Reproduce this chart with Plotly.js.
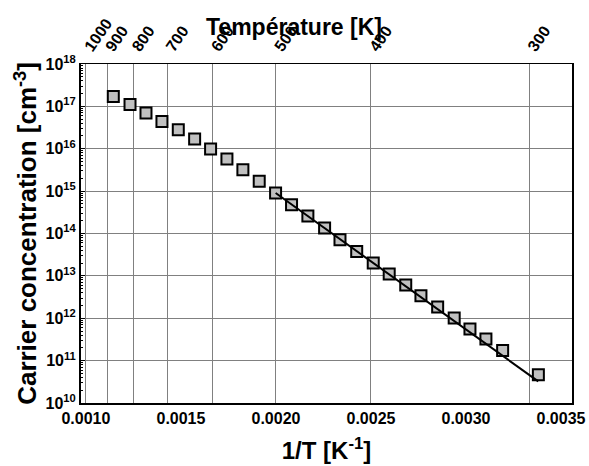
<!DOCTYPE html>
<html>
<head>
<meta charset="utf-8">
<script src="https://cdn.plot.ly/plotly-3.0.1.min.js"></script>
<style>html,body{margin:0;padding:0;background:#fff;}#chart{width:589px;height:466px;}</style>
</head>
<body>
<div id="chart"></div>
<script>
// 1/T values [K^-1] of the measured points
const invT = [0.001144, 0.001232, 0.001316, 0.001400, 0.001486, 0.001572, 0.001656,
  0.001742, 0.001826, 0.001912, 0.001998, 0.002082, 0.002168, 0.002256, 0.002337,
  0.002425, 0.002512, 0.002596, 0.002683, 0.002763, 0.002851, 0.002938, 0.003021,
  0.003105, 0.003193, 0.003381];
// carrier concentration [cm^-3]
const conc = [1.72e17, 1.10e17, 6.98e16, 4.42e16, 2.82e16, 1.70e16, 9.86e15,
  5.73e15, 3.21e15, 1.70e15, 9.04e14, 4.79e14, 2.59e14, 1.35e14, 7.14e13,
  3.78e13, 2.01e13, 1.11e13, 6.10e12, 3.40e12, 1.84e12, 1.01e12, 5.57e11,
  3.24e11, 1.74e11, 4.66e10];
// fitted straight line (end points)
const fitX = [0.0019984, 0.0033805];
const fitY = [9.04e14, 3.24e10];
// top axis temperatures [K]
const temps = [1000, 900, 800, 700, 600, 500, 400, 300];
const tempLabels = ['1000', '900', '800', '700', '600', '500', '400', '300'];
const bottomTicks = [0.0010, 0.0015, 0.0020, 0.0025, 0.0030, 0.0035];
const bottomLabels = ['0.0010', '0.0015', '0.0020', '0.0025', '0.0030', '0.0035'];
const yExponents = [10, 11, 12, 13, 14, 15, 16, 17, 18];
const minorDigits = [2, 3, 4, 5, 6, 7, 8, 9];

const FONT = 'Liberation Sans, Arial, sans-serif';
const xr = [0.000974, 0.003558];
const b = s => '<b>' + s + '</b>';

const minorVals = [];
yExponents.slice(0, -1).forEach(e => minorDigits.forEach(d => minorVals.push(d * Math.pow(10, e))));

const traces = [
  {x: invT, y: conc, mode: 'markers', type: 'scatter', xaxis: 'x', yaxis: 'y',
   marker: {symbol: 'square', size: 11, color: '#c0c0c0', line: {color: '#000', width: 2}}},
  {x: fitX, y: fitY, mode: 'lines', type: 'scatter', xaxis: 'x', yaxis: 'y',
   line: {color: '#000', width: 2}},
  {x: [], y: [], mode: 'markers', type: 'scatter', xaxis: 'x2', yaxis: 'y', hoverinfo: 'skip'}
];

const layout = {
  width: 589, height: 466,
  margin: {l: 81, r: 17, t: 64, b: 63},
  paper_bgcolor: '#fff', plot_bgcolor: '#fff',
  showlegend: false,
  font: {family: FONT, color: '#000'},
  xaxis: {
    range: xr, tickmode: 'array', tickvals: bottomTicks, ticktext: bottomLabels.map(b),
    showgrid: false, zeroline: false, showline: true, linecolor: '#000', linewidth: 2,
    ticks: '', tickfont: {size: 16, family: FONT},
    title: {text: b('1/T [K<sup>-1</sup>]'), font: {size: 24, family: FONT}, standoff: 16}
  },
  xaxis2: {
    overlaying: 'x', side: 'top', range: xr, tickmode: 'array',
    tickvals: temps.map(t => 1 / t), ticktext: tempLabels.map(b), tickangle: -55,
    showgrid: true, gridcolor: '#808080', gridwidth: 1, zeroline: false,
    showline: true, linecolor: '#000', linewidth: 1.5, ticks: '',
    tickfont: {size: 16, family: FONT}
  },
  yaxis: {
    type: 'log', range: [10, 18], tickmode: 'array',
    tickvals: yExponents.map(e => Math.pow(10, e)),
    ticktext: yExponents.map(e => b('10<sup>' + e + '</sup>')),
    showgrid: true, gridcolor: '#808080', gridwidth: 1, zeroline: false,
    showline: true, linecolor: '#000', linewidth: 2, mirror: true,
    ticks: 'inside', ticklen: 4, tickcolor: '#000',
    minor: {tickmode: 'array', tickvals: minorVals, ticks: 'inside', ticklen: 2, tickcolor: '#000', showgrid: false},
    tickfont: {size: 16, family: FONT},
    title: {text: b('Carrier concentration [cm<sup>-3</sup>]'), font: {size: 26, family: FONT}, standoff: 1}
  },
  annotations: [{
    text: b('Température [K]'), xref: 'paper', yref: 'paper', x: 0.433, y: 1.11,
    xanchor: 'center', yanchor: 'middle', showarrow: false,
    font: {size: 23, family: FONT, color: '#000'}
  }]
};

Plotly.newPlot('chart', traces, layout, {displayModeBar: false, staticPlot: true});
</script>
</body>
</html>
